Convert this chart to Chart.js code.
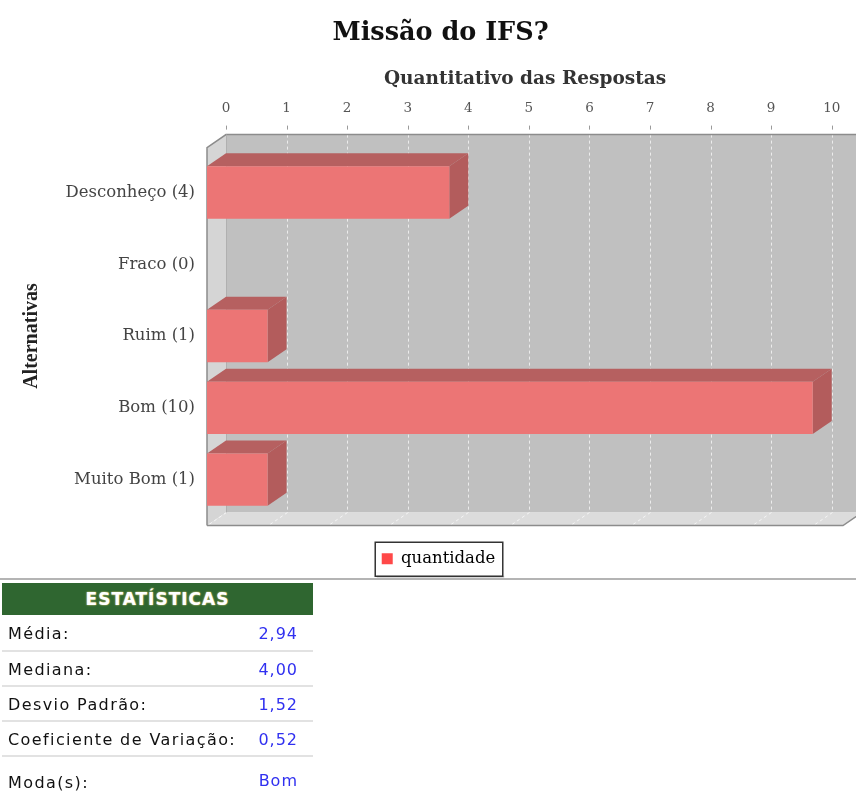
<!DOCTYPE html>
<html><head><meta charset="utf-8">
<script src="https://cdn.jsdelivr.net/npm/chart.js@4.4.1/dist/chart.umd.min.js"></script>
<style>
html,body{margin:0;padding:0;background:#fff;width:856px;height:794px;overflow:hidden;}
#c{position:absolute;left:0;top:0;}
#sep{position:absolute;left:0;top:578px;width:856px;height:2px;background:#b4b4b4;}
#stats{position:absolute;left:2px;top:583px;width:311px;font-family:"DejaVu Sans",Verdana,sans-serif;font-size:16px;letter-spacing:1.4px;}
#stats .hdr{height:32px;line-height:32px;background:#2f6630;color:#fff;font-weight:bold;text-align:center;font-size:17px;letter-spacing:1px;text-shadow:0 0 2px #c8c070,0 0 1px #c8c070;}
#stats .row{position:relative;height:33px;border-bottom:2px solid #e2e2e2;color:#111;}
#stats .row:nth-child(2){height:35px;}
#stats .row:last-child{border-bottom:none;height:50px;}
#stats .lab{position:absolute;left:6px;top:8px;}
#stats .val{position:absolute;right:15px;top:8px;color:#3030f0;letter-spacing:1px;}
#stats .row:nth-child(2) .lab,#stats .row:nth-child(2) .val{top:9px;}
#stats .row:last-child .lab{top:16px;}
#stats .row:last-child .val{top:14px;}
</style>
</head><body>
<canvas id="c" width="856" height="602"></canvas>
<div id="sep"></div>
<div id="stats"></div>
<script>
// ---- data ----
const categories = ['Desconheço (4)', 'Fraco (0)', 'Ruim (1)', 'Bom (10)', 'Muito Bom (1)'];
const quantidade = [4, 0, 1, 10, 1];
const xTickValues = [0, 1, 2, 3, 4, 5, 6, 7, 8, 9, 10];
const statLabels = ['Média:', 'Mediana:', 'Desvio Padrão:', 'Coeficiente de Variação:', 'Moda(s):'];
const statValues = ['2,94', '4,00', '1,52', '0,52', 'Bom'];

// ---- stats table ----
const st = document.getElementById('stats');
let html = '<div class="hdr">ESTATÍSTICAS</div>';
statLabels.forEach((l, i) => {
  html += '<div class="row"><span class="lab">' + l + '</span><span class="val">' + statValues[i] + '</span></div>';
});
st.innerHTML = html;

// ---- 3D look ----
const DX = 19, DY = 13, PAD_T = 9, PAD_B = 10;
const SERIF = '"DejaVu Serif", "Liberation Serif", serif';

function poly(ctx, pts, fill) {
  ctx.beginPath();
  ctx.moveTo(pts[0][0], pts[0][1]);
  for (let i = 1; i < pts.length; i++) ctx.lineTo(pts[i][0], pts[i][1]);
  ctx.closePath();
  ctx.fillStyle = fill;
  ctx.fill();
}

const plot3d = {
  id: 'plot3d',
  afterLayout(chart) {
    const lg = chart.legend;
    lg.left += 17; lg.right += 17;
    lg.top += 25; lg.bottom += 25;
    const tb = chart.titleBlock;
    if (tb) { tb.left += 19; tb.right += 19; }
  },
  beforeDatasetsDraw(chart) {
    const ctx = chart.ctx;
    const {left, right, top, bottom} = chart.chartArea;
    const xs = chart.scales.x;
    const fT = top - PAD_T, fB = bottom + PAD_B;
    const bT = fT - DY, bB = fB - DY;
    ctx.save();
    // back wall
    ctx.fillStyle = '#c0c0c0';
    ctx.fillRect(left + DX, bT, right - left, bB - bT);
    // left wall
    poly(ctx, [[left, fT], [left + DX, bT], [left + DX, bB], [left, fB]], '#d5d5d5');
    // floor
    poly(ctx, [[left, fB], [left + DX, bB], [right + DX, bB], [right, fB]], '#dcdcdc');
    // grid lines on back wall and floor
    ctx.strokeStyle = 'rgba(255,255,255,0.7)';
    ctx.lineWidth = 1;
    ctx.setLineDash([3, 3]);
    xTickValues.forEach(v => {
      const px = Math.round(xs.getPixelForValue(v)) + DX + 0.5;
      if (v > 0) {
        ctx.beginPath(); ctx.moveTo(px, bT); ctx.lineTo(px, bB); ctx.stroke();
      }
      ctx.beginPath(); ctx.moveTo(px, bB); ctx.lineTo(px - DX, fB); ctx.stroke();
    });
    ctx.setLineDash([]);
    // tick marks above back wall
    ctx.strokeStyle = '#9a9a9a';
    xTickValues.forEach(v => {
      const px = Math.round(xs.getPixelForValue(v)) + DX + 0.5;
      ctx.beginPath(); ctx.moveTo(px, bT - 9); ctx.lineTo(px, bT - 5); ctx.stroke();
    });
    // outlines
    ctx.strokeStyle = '#8c8c8c';
    ctx.lineWidth = 1.5;
    ctx.beginPath();
    ctx.moveTo(left, fB); ctx.lineTo(left, fT); ctx.lineTo(left + DX, bT); ctx.lineTo(right + DX, bT);
    ctx.moveTo(left, fB); ctx.lineTo(right, fB); ctx.lineTo(right + DX, bB);
    ctx.stroke();
    ctx.strokeStyle = '#b0b0b0';
    ctx.lineWidth = 1;
    ctx.beginPath();
    ctx.moveTo(left + DX + 0.5, bT); ctx.lineTo(left + DX + 0.5, bB);
    ctx.stroke();
    // bar top and side faces
    chart.getDatasetMeta(0).data.forEach(bar => {
      const p = bar.getProps(['x', 'y', 'base', 'height'], true);
      if (Math.abs(p.x - p.base) < 0.5) return;
      const t = p.y - p.height / 2, b = p.y + p.height / 2;
      poly(ctx, [[p.base, t], [p.base + DX, t - DY], [p.x + DX, t - DY], [p.x, t]], '#b66060');
      poly(ctx, [[p.x, t], [p.x + DX, t - DY], [p.x + DX, b - DY], [p.x, b]], '#b35c5c');
    });
    ctx.restore();
  },
  afterDraw(chart) {
    const lg = chart.legend;
    const ctx = chart.ctx;
    const hb = lg.legendHitBoxes[0];
    if (!hb) return;
    // legend frame
    const x0 = hb.left - 7, x1 = hb.left + hb.width + 7;
    const yc = lg.top + 10 + hb.height / 2;
    ctx.save();
    ctx.fillStyle = '#cfcfcf';
    ctx.fillRect(x0 + 2, yc + 17, x1 - x0, 2);
    ctx.strokeStyle = '#333';
    ctx.lineWidth = 1.5;
    ctx.strokeRect(x0 + 0.5, yc - 17 + 0.5, x1 - x0, 34);
    ctx.restore();
  }
};

new Chart(document.getElementById('c'), {
  type: 'bar',
  data: {
    labels: categories,
    datasets: [{
      label: 'quantidade',
      data: quantidade,
      backgroundColor: '#ec7575',
      borderWidth: 0,
      categoryPercentage: 1,
      barPercentage: 0.73
    }]
  },
  plugins: [plot3d],
  options: {
    indexAxis: 'y',
    responsive: false,
    animation: false,
    layout: {padding: {left: 0, right: 13, top: 0, bottom: 50}},
    plugins: {
      title: {
        display: true,
        text: 'Missão do IFS?',
        color: '#111',
        font: {family: SERIF, size: 25.5, weight: 'bold'},
        padding: {top: 18, bottom: 0}
      },
      legend: {
        position: 'bottom',
        labels: {
          boxWidth: 11, boxHeight: 11, padding: 10,
          color: '#666',
          font: {family: SERIF, size: 16.5},
          generateLabels: (chart) => [{
            text: chart.data.datasets[0].label,
            fillStyle: '#ff4848', strokeStyle: '#ff4848', lineWidth: 0,
            datasetIndex: 0, hidden: false
          }]
        }
      },
      tooltip: {enabled: false}
    },
    scales: {
      x: {
        position: 'top',
        min: 0, max: 10.5,
        afterBuildTicks: (s) => { s.ticks = xTickValues.map(v => ({value: v})); },
        afterFit: (s) => { s.height = 156 - 48; },
        grid: {display: false},
        border: {display: false},
        ticks: {
          labelOffset: DX, padding: 32, color: '#555',
          font: {family: SERIF, size: 13.5}
        },
        title: {
          display: true,
          text: 'Quantitativo das Respostas',
          color: '#333',
          font: {family: SERIF, size: 18.5, weight: 'bold'},
          padding: {top: 19, bottom: 0}
        }
      },
      y: {
        afterFit: (s) => { s.width = 207; },
        grid: {display: false},
        border: {display: false},
        ticks: {padding: 4, color: '#444', font: {family: SERIF, size: 16.5}},
        title: {
          display: true,
          text: 'Alternativas',
          color: '#222',
          font: {family: '"Liberation Serif", serif', size: 20, weight: 'bold'},
          padding: {top: 20, bottom: 0}
        }
      }
    }
  }
});
</script>
</body></html>
